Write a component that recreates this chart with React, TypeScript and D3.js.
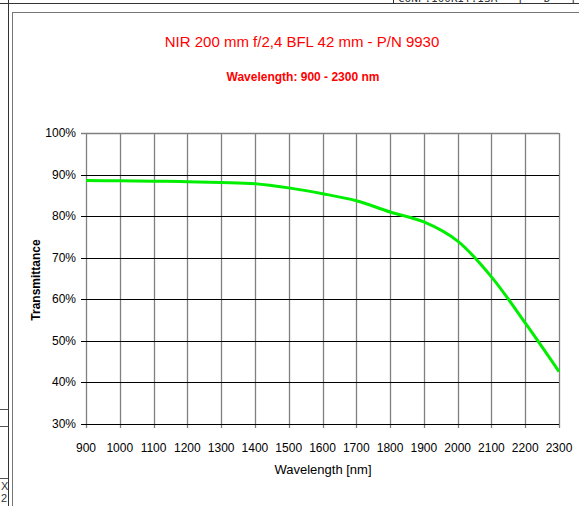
import React, { useRef, useEffect } from 'react';
import * as d3 from 'd3';

// transmittance curve
const wavelengths = [900, 1000, 1100, 1200, 1300, 1400, 1500, 1600, 1700, 1800, 1900, 2000, 2100, 2200, 2300];
const transmittance = [88.6, 88.5, 88.4, 88.3, 88.1, 87.8, 86.8, 85.4, 83.7, 81.0, 78.6, 74.0, 65.4, 54.3, 42.6];
const xTicks = [900, 1000, 1100, 1200, 1300, 1400, 1500, 1600, 1700, 1800, 1900, 2000, 2100, 2200, 2300];
const yTicks = [30, 40, 50, 60, 70, 80, 90, 100];

export default function App() {
    const svgRef = useRef<SVGSVGElement>(null);

    useEffect(() => {
        const width = 579, height = 506;
        const left = 86, right = 559, top = 133, bottom = 424;

        const svg = d3.select(svgRef.current);
        svg.selectAll('*').remove();
        svg.attr('width', width).attr('height', height);

        svg.append('rect').attr('width', width).attr('height', height).attr('fill', '#fff');

        // page frame bits around the chart
        const frame = svg.append('g').attr('fill', 'none');
        frame.append('line').attr('x1', 0).attr('x2', width).attr('y1', 3.5).attr('y2', 3.5).attr('stroke', '#333');
        frame.append('line').attr('x1', 393.5).attr('x2', 393.5).attr('y1', 0).attr('y2', 3.5).attr('stroke', '#333');
        frame.append('line').attr('x1', 8.5).attr('x2', 8.5).attr('y1', 0).attr('y2', height).attr('stroke', '#333');
        frame.append('line').attr('x1', 12).attr('x2', width).attr('y1', 12.5).attr('y2', 12.5).attr('stroke', '#777');
        frame.append('line').attr('x1', 12.5).attr('x2', 12.5).attr('y1', 12).attr('y2', height).attr('stroke', '#777');
        [409.5, 426.5, 478.5].forEach(y => {
            frame.append('line').attr('x1', 0).attr('x2', 8.5).attr('y1', y).attr('y2', y).attr('stroke', '#555');
        });
        svg.append('text').attr('x', 398).attr('y', 2).attr('font-family', 'DejaVu Sans Mono').attr('font-size', 11)
            .attr('fill', '#333').text('CONF.100KIT.ISA - [ - D - [');
        svg.append('text').attr('x', 1).attr('y', 490).attr('font-family', 'Liberation Sans').attr('font-size', 11)
            .attr('fill', '#333').text('X');
        svg.append('text').attr('x', 1).attr('y', 502).attr('font-family', 'Liberation Sans').attr('font-size', 11)
            .attr('fill', '#333').text('2');

        const x = d3.scaleLinear().domain([900, 2300]).range([left, right]);
        const y = d3.scaleLinear().domain([30, 100]).range([bottom, top]);

        // vertical grid (gray)
        svg.append('g').selectAll('line').data(xTicks).enter().append('line')
            .attr('x1', d => Math.round(x(d)) + 0.5).attr('x2', d => Math.round(x(d)) + 0.5)
            .attr('y1', top).attr('y2', bottom + 4)
            .attr('stroke', '#808080').attr('stroke-width', 1.3);

        // horizontal grid (black)
        svg.append('g').selectAll('line').data(yTicks).enter().append('line')
            .attr('x1', left - 5).attr('x2', right)
            .attr('y1', d => Math.round(y(d)) + 0.5).attr('y2', d => Math.round(y(d)) + 0.5)
            .attr('stroke', d => d === 100 ? '#808080' : '#000').attr('stroke-width', d => d === 100 ? 1.5 : 1.2);

        // y labels
        svg.append('g').selectAll('text').data(yTicks).enter().append('text')
            .attr('x', 76).attr('y', d => y(d) + 4)
            .attr('text-anchor', 'end').attr('font-family', 'Liberation Sans').attr('font-size', 12)
            .attr('fill', '#000').text(d => d + '%');

        // x labels
        svg.append('g').selectAll('text').data(xTicks).enter().append('text')
            .attr('x', d => x(d)).attr('y', 452)
            .attr('text-anchor', 'middle').attr('font-family', 'Liberation Sans').attr('font-size', 12)
            .attr('fill', '#000').text(d => d);

        const line = d3.line<number>()
            .x((d, i) => x(wavelengths[i]))
            .y(d => y(d))
            .curve(d3.curveCatmullRom.alpha(0.5));

        svg.append('path').datum(transmittance)
            .attr('d', line)
            .attr('fill', 'none').attr('stroke', '#00ee00').attr('stroke-width', 3);

        // titles
        svg.append('text').attr('x', 302).attr('y', 47).attr('text-anchor', 'middle')
            .attr('font-family', 'Liberation Sans').attr('font-size', 15).attr('fill', '#ff0000')
            .text('NIR 200 mm f/2,4 BFL 42 mm - P/N 9930');
        svg.append('text').attr('x', 303).attr('y', 81).attr('text-anchor', 'middle')
            .attr('font-family', 'Liberation Sans').attr('font-size', 12).attr('font-weight', 'bold').attr('fill', '#ff0000')
            .text('Wavelength: 900 - 2300 nm');

        svg.append('text').attr('x', 323).attr('y', 474).attr('text-anchor', 'middle')
            .attr('font-family', 'Liberation Sans').attr('font-size', 13).attr('fill', '#000')
            .text('Wavelength [nm]');
        svg.append('text').attr('transform', 'translate(40,280) rotate(-90)').attr('text-anchor', 'middle')
            .attr('font-family', 'Liberation Sans').attr('font-size', 12).attr('font-weight', 'bold').attr('fill', '#000')
            .text('Transmittance');
    }, []);

    return (
        <svg ref={svgRef} style={{ position: 'absolute', left: 0, top: 0 }}></svg>
    );
}
